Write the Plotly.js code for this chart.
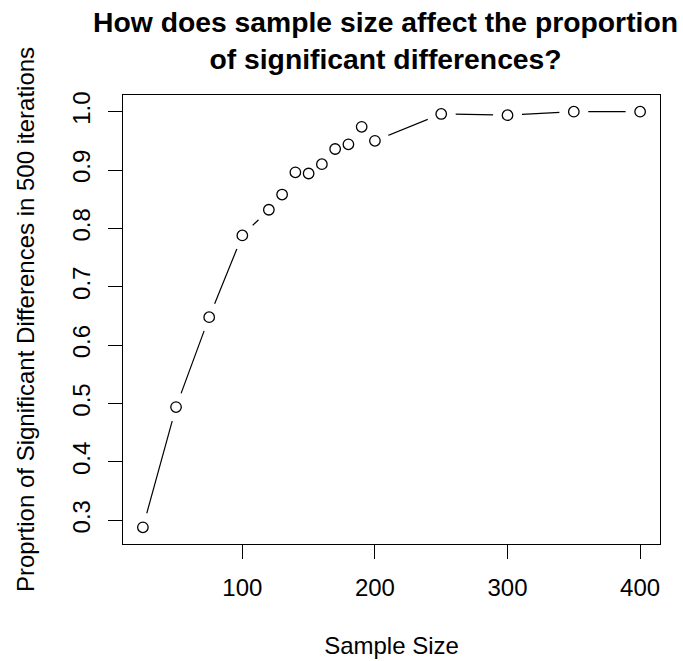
<!DOCTYPE html>
<html>
<head>
<meta charset="utf-8">
<script src="https://cdn.plot.ly/plotly-3.0.1.min.js"></script>
<style>html,body{margin:0;padding:0;background:#fff;}#chart{width:683px;height:661px;}</style>
</head>
<body>
<div id="chart"></div>
<script>
// Data
var sampleSize = [25, 50, 75, 100, 120, 130, 140, 150, 160, 170, 180, 190, 200, 250, 300, 350, 400];
var proportion = [0.288, 0.494, 0.648, 0.788, 0.832, 0.858, 0.896, 0.894, 0.910, 0.936, 0.944, 0.974, 0.950, 0.996, 0.994, 1.000, 1.000];
var xTickVals = [100, 200, 300, 400];
var yTickVals = [0.3, 0.4, 0.5, 0.6, 0.7, 0.8, 0.9, 1.0];
var yTickText = ['0.3', '0.4', '0.5', '0.6', '0.7', '0.8', '0.9', '1.0'];

// R-style axis extents (4% padding)
function pad(arr) {
  var mn = Math.min.apply(null, arr), mx = Math.max.apply(null, arr);
  var d = (mx - mn) * 0.04;
  return [mn - d, mx + d];
}

var FONT = 'Liberation Sans, Arial, Helvetica, sans-serif';

var traces = [
  { // connecting line
    x: sampleSize, y: proportion, type: 'scatter', mode: 'lines',
    line: { color: '#000', width: 1.2 }, hoverinfo: 'skip', showlegend: false
  },
  { // white gap around each point (R type="b")
    x: sampleSize, y: proportion, type: 'scatter', mode: 'markers',
    marker: { symbol: 'circle', size: 29, color: '#fff', line: { width: 0 } },
    hoverinfo: 'skip', showlegend: false
  },
  { // open circles
    x: sampleSize, y: proportion, type: 'scatter', mode: 'markers',
    marker: { symbol: 'circle-open', size: 10.5, color: '#000', line: { color: '#000', width: 1.3 } },
    showlegend: false
  }
];

var layout = {
  width: 683, height: 661,
  paper_bgcolor: '#fff', plot_bgcolor: '#fff',
  margin: { l: 123, r: 23, t: 95, b: 117, pad: 0 },
  font: { family: FONT, color: '#000', size: 24 },
  showlegend: false,
  title: {
    text: '<b>How does sample size affect the proportion<br>of significant differences?</b>',
    font: { family: FONT, size: 28.3, color: '#000' },
    xref: 'container', x: 0.5645, xanchor: 'center',
    yref: 'container', y: 0.951, yanchor: 'top'
  },
  xaxis: {
    range: pad(sampleSize),
    tickmode: 'array', tickvals: xTickVals, ticktext: xTickVals.map(String),
    ticks: 'outside', ticklen: 14, tickwidth: 1, tickcolor: '#000',
    showline: true, linecolor: '#000', linewidth: 1.2, mirror: true,
    showgrid: false, zeroline: false,
    tickfont: { family: FONT, size: 24, color: '#000' },
    ticklabelstandoff: 8,
    title: { text: 'Sample Size', font: { family: FONT, size: 24, color: '#000' }, standoff: 37 }
  },
  yaxis: {
    range: pad(proportion),
    tickmode: 'array', tickvals: yTickVals, ticktext: yTickText,
    tickangle: -90,
    ticks: 'outside', ticklen: 14, tickwidth: 1, tickcolor: '#000',
    showline: true, linecolor: '#000', linewidth: 1.2, mirror: true,
    showgrid: false, zeroline: false,
    tickfont: { family: FONT, size: 24, color: '#000' },
    ticklabelstandoff: 8,
    title: { text: 'Proprtion of Significant Differences in 500 iterations', font: { family: FONT, size: 24, color: '#000' }, standoff: 26 }
  }
};

Plotly.newPlot('chart', traces, layout, { staticPlot: true, displayModeBar: false });
</script>
</body>
</html>
